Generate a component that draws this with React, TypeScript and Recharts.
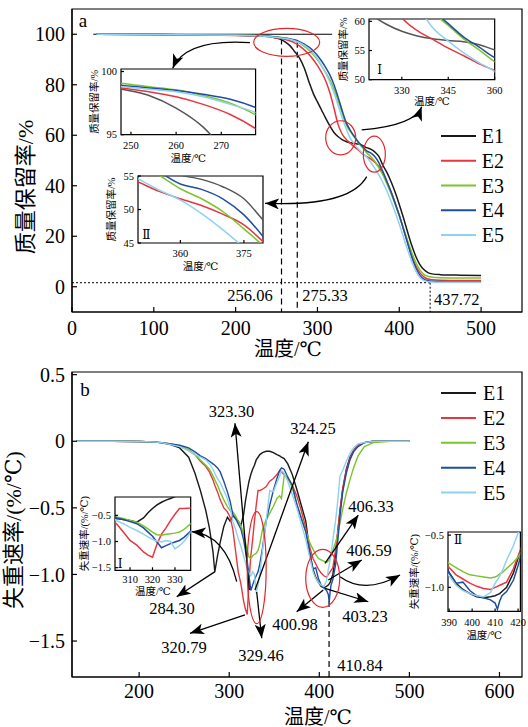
import React from "react";
import {
  LineChart,
  Line,
  XAxis,
  YAxis,
  ReferenceLine,
  ReferenceDot,
  ReferenceArea,
  Legend,
  Customized,
} from "recharts";

const SERIF = "'Liberation Serif', 'Times New Roman', 'DejaVu Serif', 'Noto Sans CJK SC', serif";
const ROMAN = "'DejaVu Serif', 'Liberation Serif', 'Noto Sans CJK SC', serif";

const names = ["E1", "E2", "E3", "E4", "E5"];
const colors = ["#1a1a1a", "#e8363f", "#7cc42a", "#1f4ea1", "#8fd1f0"];
const colorsInsetA = ["#555555", "#e8363f", "#7cc42a", "#1f4ea1", "#8fd1f0"];

// ---- (a) mass retention, %
const tgaTemp = [30, 100, 200, 240, 248, 254, 260, 266, 272, 278,
  284, 290, 295, 300, 305, 310, 315, 320, 325, 330,
  335, 340, 345, 350, 355, 360, 365, 370, 375, 380,
  385, 390, 395, 400, 405, 410, 415, 420, 425, 430,
  435, 440, 450, 475, 500];
const tgaE1 = [100, 99.9, 99.6, 99.1, 98.6, 98.1, 97.1, 95.6, 93.2, 90.6,
  86.5, 80.8, 76.5, 73.2, 70.0, 66.8, 63.8, 61.2, 59.5, 58.3,
  57.5, 57.0, 56.7, 56.5, 56.0, 55.1, 54.5, 53.4, 51.6, 48.1,
  45.2, 41.6, 37.4, 32.6, 27.4, 21.9, 16.6, 12.2, 8.9, 6.8,
  5.6, 5.1, 4.8, 4.6, 4.5];
const tgaE2 = [100, 99.9, 99.5, 99.1, 98.7, 98.4, 98.0, 97.4, 96.6, 95.4,
  93.8, 91.9, 89.9, 87.6, 84.9, 81.6, 77.0, 71.0, 64.5, 60.6,
  58.4, 56.9, 55.4, 54.1, 52.7, 51.6, 50.6, 49.3, 47.7, 44.9,
  41.5, 37.6, 33.2, 28.3, 23.0, 17.6, 12.6, 8.5, 5.6, 3.9,
  3.1, 2.8, 2.6, 2.5, 2.5];
const tgaE3 = [100, 99.9, 99.7, 99.3, 99.05, 98.8, 98.55, 98.1, 97.5, 96.5,
  95.2, 93.6, 91.9, 89.9, 87.5, 84.9, 82.0, 78.4, 74.0, 69.0,
  64.3, 61.5, 59.3, 57.0, 55.1, 53.1, 51.6, 49.7, 47.1, 44.3,
  40.7, 36.8, 32.6, 28.1, 23.3, 18.4, 13.8, 9.8, 6.8, 4.9,
  4.1, 3.8, 3.6, 3.5, 3.5];
const tgaE4 = [100, 99.9, 99.6, 99.2, 98.9, 98.7, 98.5, 98.2, 97.8, 97.1,
  96.1, 94.8, 93.4, 91.6, 89.4, 86.9, 84.0, 80.2, 75.3, 70.0,
  65.2, 62.0, 59.6, 57.3, 55.6, 53.8, 53.0, 51.6, 49.2, 45.6,
  41.6, 37.5, 33.0, 28.3, 23.0, 17.5, 12.0, 7.6, 4.6, 3.0,
  2.4, 2.2, 2.1, 2.0, 2.0];
const tgaE5 = [100, 99.9, 99.6, 99.1, 98.8, 98.6, 98.4, 98.0, 97.4, 96.7,
  95.6, 94.1, 92.4, 90.3, 87.7, 84.7, 81.1, 76.9, 72.1, 67.1,
  62.7, 58.9, 56.6, 54.6, 52.9, 51.4, 49.4, 47.0, 44.3, 41.3,
  37.8, 33.8, 29.5, 24.8, 19.8, 14.8, 10.2, 6.4, 3.8, 2.5,
  2.0, 1.9, 1.8, 1.8, 1.8];

// ---- (b) mass loss rate, %/℃
const dtgTemp = [130, 170, 200, 215, 225, 235, 245, 255, 262, 268,
  274, 278, 282, 284, 287, 290, 294, 298, 301, 304,
  307, 310, 313, 316, 318, 320, 322, 324, 326, 328,
  330, 332, 334, 337, 341, 345, 349, 353, 356, 358,
  361, 365, 370, 375, 380, 385, 390, 393, 396, 399,
  402, 405, 408, 410, 411, 412, 413, 415, 418, 420,
  423, 426, 430, 434, 438, 443, 450, 460, 480, 500];
const dtgE1 = [0, 0, -0.002, -0.005, -0.012, -0.025, -0.05, -0.12, -0.24, -0.37,
  -0.52, -0.65, -0.83, -0.98, -0.86, -0.76, -0.64, -0.57, -0.6, -0.56,
  -0.58, -0.6, -0.63, -0.55, -0.45, -0.37, -0.3, -0.25, -0.21, -0.18,
  -0.14, -0.12, -0.1, -0.085, -0.075, -0.075, -0.085, -0.1, -0.11, -0.12,
  -0.13, -0.17, -0.25, -0.36, -0.48, -0.6, -0.86, -0.96, -1.02, -1.06,
  -1.09, -1.1, -1.09, -1.08, -1.07, -1.06, -1.04, -1.0, -0.86, -0.72,
  -0.52, -0.36, -0.21, -0.12, -0.07, -0.03, -0.01, 0, 0, 0];
const dtgE2 = [0, 0, -0.002, -0.005, -0.01, -0.02, -0.035, -0.07, -0.1, -0.15,
  -0.19, -0.23, -0.29, -0.33, -0.38, -0.44, -0.5, -0.53, -0.57, -0.66,
  -0.82, -0.98, -1.07, -1.2, -1.26, -1.3, -1.05, -0.86, -0.74, -0.6,
  -0.48, -0.37, -0.37, -0.36, -0.34, -0.3, -0.28, -0.25, -0.22, -0.23,
  -0.25, -0.28, -0.33, -0.41, -0.52, -0.65, -0.81, -0.88, -0.92, -0.96,
  -0.99, -1.01, -1.02, -1.0, -0.99, -0.98, -0.97, -0.95, -0.82, -0.7,
  -0.52, -0.36, -0.22, -0.13, -0.07, -0.03, -0.01, 0, 0, 0];
const dtgE3 = [0, 0, -0.002, -0.005, -0.01, -0.02, -0.035, -0.06, -0.1, -0.14,
  -0.18, -0.21, -0.26, -0.29, -0.33, -0.38, -0.44, -0.49, -0.52, -0.53,
  -0.56, -0.6, -0.63, -0.7, -0.76, -0.82, -0.87, -0.88, -0.86, -0.85,
  -0.84, -0.82, -0.77, -0.66, -0.59, -0.54, -0.49, -0.43, -0.41, -0.43,
  -0.26, -0.27, -0.35, -0.47, -0.57, -0.68, -0.77, -0.81, -0.85, -0.88,
  -0.89, -0.9, -0.91, -0.9, -0.89, -0.87, -0.86, -0.82, -0.76, -0.71,
  -0.61, -0.51, -0.39, -0.29, -0.2, -0.11, -0.04, -0.01, 0, 0];
const dtgE4 = [0, 0, -0.002, -0.005, -0.01, -0.02, -0.03, -0.05, -0.08, -0.11,
  -0.13, -0.15, -0.17, -0.18, -0.2, -0.23, -0.3, -0.38, -0.45, -0.55,
  -0.58, -0.62, -0.66, -0.74, -0.82, -0.9, -1.01, -1.12, -1.08, -1.04,
  -1.01, -0.98, -0.92, -0.8, -0.6, -0.48, -0.37, -0.28, -0.22, -0.2,
  -0.21, -0.27, -0.33, -0.47, -0.58, -0.68, -0.86, -0.96, -0.95, -1.03,
  -1.08, -1.1, -1.12, -1.15, -1.21, -1.13, -1.08, -1.04, -0.93, -0.79,
  -0.56, -0.38, -0.24, -0.14, -0.08, -0.04, -0.01, 0, 0, 0];
const dtgE5 = [0, 0, -0.002, -0.005, -0.01, -0.025, -0.04, -0.07, -0.1, -0.12,
  -0.14, -0.17, -0.21, -0.24, -0.28, -0.31, -0.37, -0.43, -0.5, -0.6,
  -0.66, -0.73, -0.79, -0.86, -0.91, -0.96, -0.99, -1.01, -0.98, -1.0,
  -1.14, -1.08, -1.0, -0.82, -0.6, -0.37, -0.38, -0.31, -0.26, -0.22,
  -0.24, -0.3, -0.4, -0.5, -0.62, -0.74, -0.89, -0.98, -1.03, -1.06,
  -1.08, -1.09, -1.05, -0.96, -0.93, -0.89, -0.85, -0.74, -0.6, -0.48,
  -0.26, -0.22, -0.15, -0.09, -0.05, -0.02, -0.01, 0, 0, 0];

const tgaXTicks = [0, 100, 200, 300, 400, 500];
const tgaYTicks = [0, 20, 40, 60, 80, 100];
const dtgXTicks = [200, 300, 400, 500, 600];
const dtgYTicks = [-1.5, -1, -0.5, 0, 0.5];

const tgaRows = tgaTemp.map((t, i) => ({ t, E1: tgaE1[i], E2: tgaE2[i], E3: tgaE3[i], E4: tgaE4[i], E5: tgaE5[i] }));
const dtgRows = dtgTemp.map((t, i) => ({ t, E1: dtgE1[i], E2: dtgE2[i], E3: dtgE3[i], E4: dtgE4[i], E5: dtgE5[i] }));

const fmtRate = (v: number) => (v === 0 ? "0" : (v < 0 ? "\u2212" : "") + Math.abs(v).toFixed(1));

const axisStroke = { stroke: "#000", strokeWidth: 1.2 };
const bigTick = { fontSize: 20, fill: "#000", fontFamily: SERIF };
const smallTick = { fontSize: 10.5, fill: "#000", fontFamily: SERIF };

// curved / straight arrow drawn between the two segment points of a ReferenceLine
const arrow = (bx = 0, by = 0) => (p: any) => {
  const { x1, y1, x2, y2 } = p;
  const cx = (x1 + x2) / 2 + bx;
  const cy = (y1 + y2) / 2 + by;
  const d = bx || by ? `M${x1},${y1} Q${cx},${cy} ${x2},${y2}` : `M${x1},${y1} L${x2},${y2}`;
  return <path d={d} fill="none" stroke="#000" strokeWidth={1.3} markerEnd="url(#ahead)" />;
};
const ellipse = (rx: number, ry: number) => (p: any) => (
  <ellipse cx={p.cx} cy={p.cy} rx={rx} ry={ry} fill="none" stroke="#e3262c" strokeWidth={1.2} />
);
const label = (txt: string, size = 16.5) => (p: any) => (
  <text x={p.cx} y={p.cy} textAnchor="middle" dominantBaseline="central" fontSize={size} fontFamily={SERIF} fill="#000">
    {txt}
  </text>
);

const legendAt = (gap: number, textX: number) => (props: any) => {
  const items = props.payload || [];
  return (
    <svg width={90} height={140}>
      {items.map((it: any, i: number) => (
        <g key={it.value}>
          <line x1={5} x2={40} y1={18 + i * gap} y2={18 + i * gap} stroke={it.color} strokeWidth={2} />
          <text x={textX} y={18 + i * gap + 7} fontSize={20} fontFamily={SERIF} fill="#000">
            {it.value}
          </text>
        </g>
      ))}
    </svg>
  );
};

type InsetProps = {
  x: number; y: number; w: number; h: number;
  rows: any[]; palette: string[]; curve: "monotone" | "linear";
  xDomain: [number, number]; yDomain: [number, number];
  xTicks: number[]; yTicks: number[]; yFmt?: (v: number) => string;
  yTitle: string; yGap: number; xGap: number; tickGap: number;
  roman?: string; romanAt?: [number, number];
};

function Inset(p: InsetProps) {
  const ml = 44, mt = 4, mr = 8, mb = 34;
  return (
    <div style={{ position: "absolute", left: p.x - ml, top: p.y - mt }}>
      <LineChart width={p.w + ml + mr} height={p.h + mt + mb} data={p.rows} margin={{ top: mt, right: mr, bottom: 0, left: 0 }}>
        <XAxis type="number" dataKey="t" domain={p.xDomain} ticks={p.xTicks} interval={0} allowDataOverflow height={mb}
          tickSize={-3} tickMargin={p.tickGap} tick={smallTick} axisLine={false} tickLine={axisStroke} />
        <YAxis type="number" domain={p.yDomain} ticks={p.yTicks} interval={0} allowDataOverflow width={ml}
          tickSize={-3} tickMargin={7} tick={smallTick} tickFormatter={p.yFmt} axisLine={false} tickLine={axisStroke} />
        {names.map((n, i) => (
          <Line key={n} type={p.curve} dataKey={n} stroke={p.palette[i]} strokeWidth={1.5} dot={false} isAnimationActive={false} />
        ))}
        <ReferenceArea x1={p.xDomain[0]} x2={p.xDomain[1]} y1={p.yDomain[0]} y2={p.yDomain[1]} fill="none" stroke="#000" strokeWidth={1.2} fillOpacity={0} ifOverflow="visible" />
        <Customized
          component={
            <g fontFamily={SERIF} fill="#000">
              <text x={ml - p.yGap} y={mt + p.h / 2} fontSize={10.5} textAnchor="middle" dominantBaseline="central"
                transform={`rotate(-90 ${ml - p.yGap} ${mt + p.h / 2})`}>{p.yTitle}</text>
              <text x={ml + p.w / 2} y={mt + p.h + p.xGap} fontSize={10.5} textAnchor="middle" dominantBaseline="central">温度/℃</text>
              {p.roman && p.romanAt ? (
                <text x={ml + p.romanAt[0]} y={mt + p.romanAt[1]} fontSize={12} fontFamily={ROMAN} textAnchor="middle" dominantBaseline="central">{p.roman}</text>
              ) : null}
            </g>
          }
        />
      </LineChart>
    </div>
  );
}

function PanelA() {
  return (
    <div style={{ position: "absolute", left: 0, top: 0 }}>
      <LineChart width={528} height={360} data={tgaRows} margin={{ top: 9, right: 6, bottom: 18, left: 0 }}>
        <XAxis type="number" dataKey="t" domain={[0, 550]} ticks={tgaXTicks} interval={0} allowDataOverflow height={30}
          tickSize={-5} tickMargin={14} tick={bigTick} axisLine={axisStroke} tickLine={axisStroke} />
        <YAxis type="number" domain={[-10, 110]} ticks={tgaYTicks} interval={0} allowDataOverflow width={72}
          tickSize={-5} tickMargin={12} tick={bigTick} axisLine={axisStroke} tickLine={axisStroke} />
        <ReferenceArea x1={0} x2={550} y1={-10} y2={110} fill="none" fillOpacity={0} stroke="#000" strokeWidth={1.2} ifOverflow="visible" />
        <ReferenceLine segment={[{ x: 26, y: 100 }, { x: 318, y: 100 }]} stroke="#000" strokeWidth={1.2} ifOverflow="visible" />
        <ReferenceLine segment={[{ x: 0, y: 1.6 }, { x: 437.72, y: 1.6 }]} stroke="#000" strokeDasharray="2 2" strokeWidth={1} ifOverflow="visible" />
        <ReferenceLine segment={[{ x: 437.72, y: 1.6 }, { x: 437.72, y: -10 }]} stroke="#000" strokeDasharray="2 2" strokeWidth={1} ifOverflow="visible" />
        <ReferenceLine segment={[{ x: 256.06, y: 98.3 }, { x: 256.06, y: -10 }]} stroke="#000" strokeDasharray="6 4" strokeWidth={1.2} ifOverflow="visible" />
        <ReferenceLine segment={[{ x: 275.33, y: 97 }, { x: 275.33, y: -10 }]} stroke="#000" strokeDasharray="6 4" strokeWidth={1.2} ifOverflow="visible" />
        {names.map((n, i) => (
          <Line key={n} type="monotone" dataKey={n} stroke={colors[i]} strokeWidth={1.5} dot={false} isAnimationActive={false} />
        ))}
        <ReferenceDot x={262.4} y={96.8} r={1} ifOverflow="visible" shape={ellipse(33, 14)} />
        <ReferenceDot x={328.4} y={59} r={1} ifOverflow="visible" shape={ellipse(15, 17)} />
        <ReferenceDot x={369.5} y={52.5} r={1} ifOverflow="visible" shape={ellipse(11, 18)} />
        <ReferenceLine segment={[{ x: 217.5, y: 96.7 }, { x: 123.1, y: 86.5 }]} ifOverflow="visible" shape={arrow(-26, -17)} />
        <ReferenceLine segment={[{ x: 354.1, y: 62.1 }, { x: 427.4, y: 71.3 }]} ifOverflow="visible" shape={arrow(23, 7)} />
        <ReferenceLine segment={[{ x: 360.2, y: 43.6 }, { x: 235.9, y: 33.05 }]} ifOverflow="visible" shape={arrow(34, 17)} />
        <ReferenceDot x={217.5} y={-3.3} r={1} ifOverflow="visible" shape={label("256.06")} />
        <ReferenceDot x={309.2} y={-3.3} r={1} ifOverflow="visible" shape={label("275.33")} />
        <ReferenceDot x={470.2} y={-5.2} r={1} ifOverflow="visible" shape={label("437.72")} />
        <ReferenceDot x={13.4} y={105.6} r={1} ifOverflow="visible" shape={label("a", 19)} />
        <Legend layout="vertical" align="center" verticalAlign="middle" content={legendAt(24.75, 45.7)}
          wrapperStyle={{ left: 436, top: 118, width: 90, height: 140 }} />
        <Customized
          component={
            <g fontFamily={SERIF} fill="#000">
              <text x={25} y={187} fontSize={22} textAnchor="middle" dominantBaseline="central" transform="rotate(-90 25 187)">质量保留率/%</text>
              <text x={288} y={349} fontSize={20} textAnchor="middle" dominantBaseline="central">温度/℃</text>
            </g>
          }
        />
      </LineChart>
    </div>
  );
}

function PanelB() {
  return (
    <div style={{ position: "absolute", left: 0, top: 360 }}>
      <LineChart width={528} height={367} data={dtgRows} margin={{ top: 12, right: 6, bottom: 20, left: 0 }}>
        <XAxis type="number" dataKey="t" domain={[125.5, 625]} ticks={dtgXTicks} interval={0} allowDataOverflow height={30}
          tickSize={-5} tickMargin={12} tick={bigTick} axisLine={axisStroke} tickLine={axisStroke} />
        <YAxis type="number" domain={[-1.77, 0.52]} ticks={dtgYTicks} interval={0} allowDataOverflow width={72}
          tickSize={-5} tickMargin={12} tick={bigTick} tickFormatter={fmtRate} axisLine={axisStroke} tickLine={axisStroke} />
        <ReferenceArea x1={125.5} x2={625} y1={-1.77} y2={0.52} fill="none" fillOpacity={0} stroke="#000" strokeWidth={1.2} ifOverflow="visible" />
        <ReferenceLine segment={[{ x: 410.84, y: -1.2 }, { x: 410.84, y: -1.77 }]} stroke="#000" strokeDasharray="6 4" strokeWidth={1.2} ifOverflow="visible" />
        {names.map((n, i) => (
          <Line key={n} type="linear" dataKey={n} stroke={colors[i]} strokeWidth={1.4} dot={false} isAnimationActive={false} />
        ))}
        <ReferenceDot x={330.5} y={-0.949} r={1} ifOverflow="visible" shape={ellipse(9.5, 56)} />
        <ReferenceDot x={403.8} y={-1.029} r={1} ifOverflow="visible" shape={ellipse(17, 29)} />
        <ReferenceLine segment={[{ x: 322.3, y: -1.117 }, { x: 306.4, y: 0.135 }]} ifOverflow="visible" shape={arrow()} />
        <ReferenceLine segment={[{ x: 328.6, y: -1.117 }, { x: 387.8, y: -0.003 }]} ifOverflow="visible" shape={arrow()} />
        <ReferenceLine segment={[{ x: 330.5, y: -1.132 }, { x: 336.1, y: -1.479 }]} ifOverflow="visible" shape={arrow()} />
        <ReferenceLine segment={[{ x: 317.5, y: -1.304 }, { x: 256.5, y: -1.442 }]} ifOverflow="visible" shape={arrow()} />
        <ReferenceLine segment={[{ x: 284.2, y: -0.979 }, { x: 241.7, y: -1.167 }]} ifOverflow="visible" shape={arrow()} />
        <ReferenceLine segment={[{ x: 308.3, y: -1.054 }, { x: 258.4, y: -0.679 }]} ifOverflow="visible" shape={arrow(11, -22)} />
        <ReferenceLine segment={[{ x: 406.3, y: -0.916 }, { x: 443.3, y: -0.554 }]} ifOverflow="visible" shape={arrow()} />
        <ReferenceLine segment={[{ x: 410, y: -1.042 }, { x: 447.1, y: -0.892 }]} ifOverflow="visible" shape={arrow()} />
        <ReferenceLine segment={[{ x: 404.4, y: -1.117 }, { x: 374.9, y: -1.28 }]} ifOverflow="visible" shape={arrow()} />
        <ReferenceLine segment={[{ x: 406.3, y: -1.104 }, { x: 454.4, y: -1.205 }]} ifOverflow="visible" shape={arrow()} />
        <ReferenceLine segment={[{ x: 423, y: -1.017 }, { x: 489.6, y: -1.004 }]} ifOverflow="visible" shape={arrow(-5, 19)} />
        <ReferenceDot x={302.5} y={0.223} r={1} ifOverflow="visible" shape={label("323.30")} />
        <ReferenceDot x={393} y={0.094} r={1} ifOverflow="visible" shape={label("324.25")} />
        <ReferenceDot x={335.3} y={-1.612} r={1} ifOverflow="visible" shape={label("329.46")} />
        <ReferenceDot x={249.8} y={-1.552} r={1} ifOverflow="visible" shape={label("320.79")} />
        <ReferenceDot x={236.5} y={-1.259} r={1} ifOverflow="visible" shape={label("284.30")} />
        <ReferenceDot x={457.4} y={-0.49} r={1} ifOverflow="visible" shape={label("406.33")} />
        <ReferenceDot x={455.2} y={-0.822} r={1} ifOverflow="visible" shape={label("406.59")} />
        <ReferenceDot x={373} y={-1.376} r={1} ifOverflow="visible" shape={label("400.98")} />
        <ReferenceDot x={450.7} y={-1.316} r={1} ifOverflow="visible" shape={label("403.23")} />
        <ReferenceDot x={445.2} y={-1.68} r={1} ifOverflow="visible" shape={label("410.84")} />
        <ReferenceDot x={139.9} y={0.385} r={1} ifOverflow="visible" shape={label("b", 19)} />
        <Legend layout="vertical" align="center" verticalAlign="middle" content={legendAt(24.9, 47)}
          wrapperStyle={{ left: 436, top: 15, width: 90, height: 140 }} />
        <Customized
          component={
            <g fontFamily={SERIF} fill="#000">
              <text x={13} y={170} fontSize={22} textAnchor="middle" dominantBaseline="central" transform="rotate(-90 13 170)">失重速率/(%/℃)</text>
              <text x={318} y={357} fontSize={20} textAnchor="middle" dominantBaseline="central">温度/℃</text>
            </g>
          }
        />
      </LineChart>
    </div>
  );
}

export default function App() {
  return (
    <div style={{ position: "absolute", left: 0, top: 0, width: 528, height: 727, background: "#fff", overflow: "hidden" }}>
      <svg width={0} height={0} style={{ position: "absolute" }}>
        <defs>
          <marker id="ahead" viewBox="0 0 14 11" refX={14} refY={5.5} markerWidth={14} markerHeight={11} markerUnits="userSpaceOnUse" orient="auto">
            <path d="M0,0 L14,5.5 L0,11 L3.5,5.5 z" fill="#000" />
          </marker>
        </defs>
      </svg>
      <PanelA />
      <PanelB />
      <Inset x={120.7} y={69.3} w={134.6} h={65.7} rows={tgaRows} palette={colorsInsetA} curve="monotone"
        xDomain={[247.8, 277.6]} yDomain={[95, 100.2]} xTicks={[250, 260, 270]} yTicks={[95, 100]}
        yTitle="质量保留率/%" yGap={27} xGap={24} tickGap={10} />
      <Inset x={369.3} y={19.3} w={125.7} h={60.7} rows={tgaRows} palette={colorsInsetA} curve="monotone"
        xDomain={[319.4, 360]} yDomain={[50, 60.4]} xTicks={[330, 345, 360]} yTicks={[50, 55, 60]}
        yTitle="质量保留率/%" yGap={26} xGap={22} tickGap={10} roman="Ⅰ" romanAt={[10.7, 51.4]} />
      <Inset x={138.3} y={175.7} w={125} h={67} rows={tgaRows} palette={colorsInsetA} curve="monotone"
        xDomain={[350, 379.5]} yDomain={[45, 55]} xTicks={[360, 375]} yTicks={[45, 50, 55]}
        yTitle="质量保留率/%" yGap={27} xGap={23} tickGap={10} roman="Ⅱ" romanAt={[8.4, 58.6]} />
      <Inset x={115} y={496.7} w={75.7} h={73.3} rows={dtgRows} palette={colors} curve="linear"
        xDomain={[303.3, 337]} yDomain={[-1.55, -0.15]} xTicks={[310, 320, 330]} yTicks={[-1.5, -1, -0.5]} yFmt={fmtRate}
        yTitle="失重速率/(%/℃)" yGap={30} xGap={21} tickGap={8} roman="Ⅰ" romanAt={[5, 67]} />
      <Inset x={448.3} y={532.3} w={72.4} h={79.4} rows={dtgRows} palette={colors} curve="linear"
        xDomain={[389.5, 421]} yDomain={[-1.23, -0.47]} xTicks={[390, 400, 410, 420]} yTicks={[-1, -0.5]} yFmt={fmtRate}
        yTitle="失重速率/(%/℃)" yGap={33} xGap={24} tickGap={10} roman="Ⅱ" romanAt={[10, 7.7]} />
    </div>
  );
}
